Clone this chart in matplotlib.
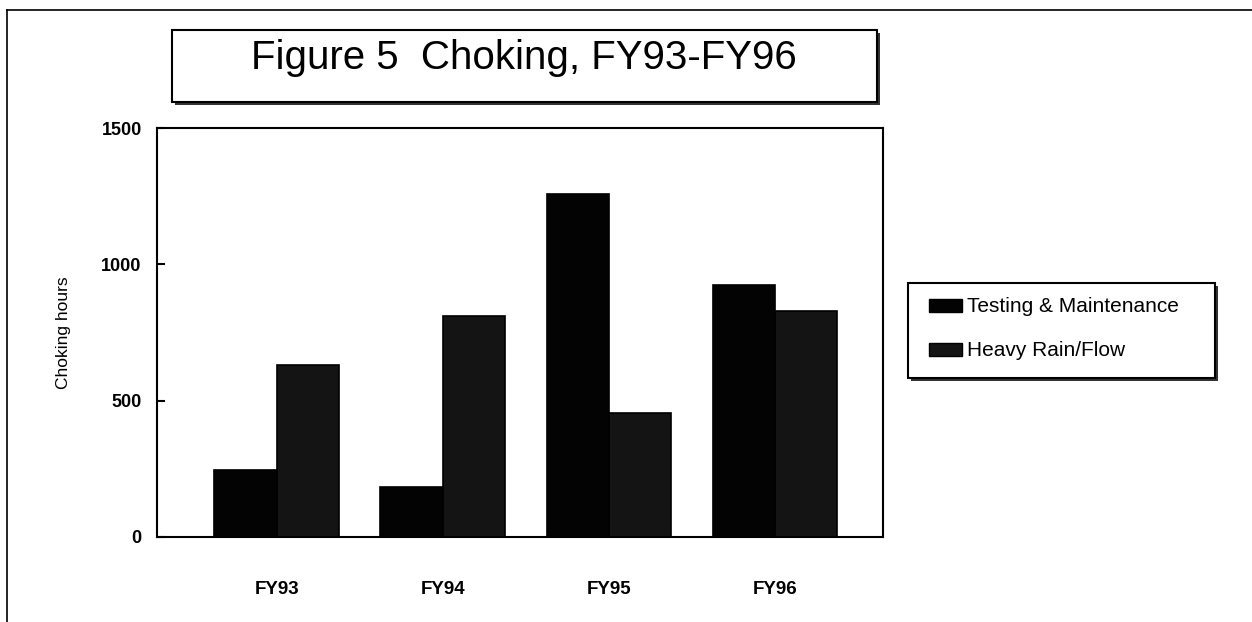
import matplotlib.pyplot as plt
import numpy as np
from matplotlib.patches import Rectangle

plt.rcParams['font.family'] = ['Liberation Sans', 'DejaVu Sans']

years = ['FY93', 'FY94', 'FY95', 'FY96']
testing = [245, 183, 1258, 925]
heavy_rain = [630, 812, 454, 830]
series_names = ['Testing & Maintenance', 'Heavy Rain/Flow']
yticks = [0, 500, 1000, 1500]

fig = plt.figure(figsize=(12.52, 6.22), dpi=100)
ax = fig.add_axes([0.1254, 0.1367, 0.5799, 0.6575])

colors = ['#030303', '#141414']
x = np.arange(len(years))
w = 0.375
ax.bar(x - w / 2, testing, w, color=colors[0], edgecolor='black', linewidth=1.2)
ax.bar(x + w / 2, heavy_rain, w, color=colors[1], edgecolor='black', linewidth=1.2)

ax.set_xlim(-0.72, 3.65)
ax.set_ylim(0, 1500)
ax.set_yticks(yticks)
ax.set_yticklabels([str(v) for v in yticks], fontsize=13, fontweight='bold')
ax.tick_params(axis='y', direction='in', length=6, width=1.5, pad=11)
ax.set_xticks(x)
ax.set_xticklabels(years, fontsize=13.5, fontweight='bold')
ax.tick_params(axis='x', length=0, pad=32)
ax.set_ylabel('Choking hours', fontsize=12.5, labelpad=22)
for s in ax.spines.values():
    s.set_linewidth(1.5)

# title box with shadow
fig.patches.append(Rectangle((175 / 1252, 1 - 105 / 622), 705 / 1252, 72 / 622,
                             transform=fig.transFigure, facecolor='#333333', edgecolor='none'))
fig.patches.append(Rectangle((172 / 1252, 1 - 102 / 622), 705 / 1252, 72 / 622,
                             transform=fig.transFigure, facecolor='white', edgecolor='black', linewidth=1.5))
fig.text(524 / 1252, 1 - 58 / 622, 'Figure 5  Choking, FY93-FY96', fontsize=29,
         ha='center', va='center')

# legend box with shadow
fig.patches.append(Rectangle((911 / 1252, 1 - 381 / 622), 307 / 1252, 95 / 622,
                             transform=fig.transFigure, facecolor='#333333', edgecolor='none'))
fig.patches.append(Rectangle((908 / 1252, 1 - 378 / 622), 307 / 1252, 95 / 622,
                             transform=fig.transFigure, facecolor='white', edgecolor='black', linewidth=1.5))
for i, (name, col) in enumerate(zip(series_names, colors)):
    yy = 1 - (306 + i * 44) / 622
    fig.patches.append(Rectangle((929 / 1252, yy - 6 / 622), 33 / 1252, 13 / 622,
                                 transform=fig.transFigure, facecolor=col, edgecolor='black', linewidth=1))
    fig.text(967 / 1252, yy, name, fontsize=15, ha='left', va='center')

# outer frame lines
fig.add_artist(plt.Line2D([7 / 1252, 1], [1 - 10 / 622] * 2, color='black', linewidth=1.2,
                          transform=fig.transFigure))
fig.add_artist(plt.Line2D([7 / 1252] * 2, [0, 1 - 10 / 622], color='black', linewidth=1.2,
                          transform=fig.transFigure))

fig.savefig('out.png', dpi=100)
